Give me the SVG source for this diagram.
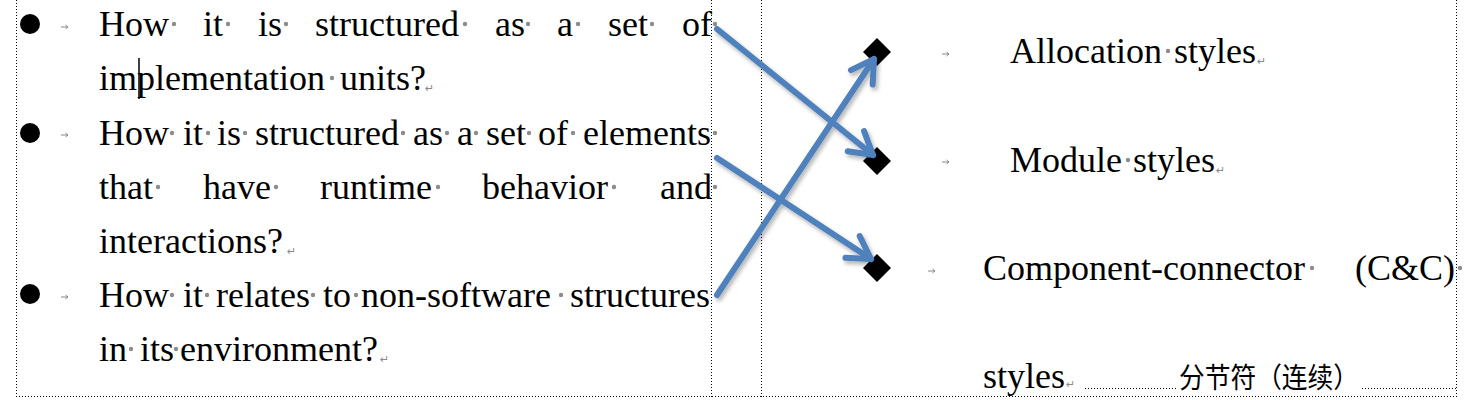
<svg xmlns="http://www.w3.org/2000/svg" width="1465" height="400" viewBox="0 0 1465 400">
<style>
.t{font-family:"Liberation Serif","Times New Roman",serif;font-size:36px;fill:#000}
.tr{font-family:"Liberation Serif","Times New Roman",serif;font-size:36px;fill:#000}
.d{fill:#8c8c8c}
.ret{font-family:"DejaVu Sans",sans-serif;font-size:11px;fill:#888}
.tab{stroke:#888;stroke-width:1;fill:none}
.grid{stroke:#000;stroke-width:1;stroke-dasharray:1 2;fill:none}
.arr{stroke:#4F81BD;stroke-width:6;stroke-linecap:round;fill:none;marker-end:url(#head)}
.cjk{font-family:"Noto Sans CJK SC",sans-serif;font-size:28px;fill:#000}
</style>
<defs>
<marker id="head" viewBox="-30 -20 40 40" refX="0" refY="0" markerWidth="40" markerHeight="40" markerUnits="userSpaceOnUse" orient="auto">
<path d="M-22,-13 L0,0 L-22,13" stroke="#4F81BD" stroke-width="6" stroke-linecap="round" stroke-linejoin="round" fill="none"/>
</marker>
<filter id="sh" x="-20%" y="-20%" width="140%" height="140%">
<feDropShadow dx="2" dy="3" stdDeviation="2" flood-color="#000" flood-opacity="0.3"/>
</filter>
<g id="tabmark"><path d="M0,0 H7 M4.5,-2 L7,0 L4.5,2" class="tab"/></g>
</defs>
<rect width="1465" height="400" fill="#fff"/>

<g id="frame">
<line x1="16.5" y1="0" x2="16.5" y2="397" class="grid"/>
<line x1="711.5" y1="0" x2="711.5" y2="397" class="grid"/>
<line x1="761.5" y1="0" x2="761.5" y2="397" class="grid"/>
<line x1="1456.5" y1="0" x2="1456.5" y2="397" class="grid"/>
<line x1="16" y1="396.5" x2="1457" y2="396.5" class="grid"/>
</g>

<g id="bullet1">
<circle cx="30" cy="24" r="10" fill="#000"/>
<use href="#tabmark" x="61" y="27"/>
<text class="t" y="36"><tspan x="99">How</tspan><tspan x="203">it</tspan><tspan x="258">is</tspan><tspan x="315">structured</tspan><tspan x="495">as</tspan><tspan x="557">a</tspan><tspan x="608">set</tspan><tspan x="682">of</tspan></text>
<circle class="d" cx="174" cy="24" r="2.2"/><circle class="d" cx="228" cy="24" r="2.2"/><circle class="d" cx="286" cy="24" r="2.2"/><circle class="d" cx="465" cy="24" r="2.2"/><circle class="d" cx="528" cy="24" r="2.2"/><circle class="d" cx="578" cy="24" r="2.2"/><circle class="d" cx="652" cy="24" r="2.2"/><circle class="d" cx="715" cy="24" r="2.2"/>
<text class="t" y="90"><tspan x="99">implementation</tspan><tspan x="340">units?</tspan></text>
<circle class="d" cx="332" cy="78" r="2.2"/>
<text class="ret" x="425" y="92">↵</text>
<line x1="139" y1="58" x2="139" y2="99" stroke="#000" stroke-width="1.5"/>
</g>

<g id="bullet2">
<circle cx="30" cy="133" r="10" fill="#000"/>
<use href="#tabmark" x="61" y="135"/>
<text class="t" y="145"><tspan x="99">How</tspan><tspan x="183">it</tspan><tspan x="217">is</tspan><tspan x="255">structured</tspan><tspan x="413">as</tspan><tspan x="457">a</tspan><tspan x="486">set</tspan><tspan x="538">of</tspan><tspan x="583">elements</tspan></text>
<circle class="d" cx="172" cy="133" r="2.2"/><circle class="d" cx="208" cy="133" r="2.2"/><circle class="d" cx="245" cy="133" r="2.2"/><circle class="d" cx="403" cy="133" r="2.2"/><circle class="d" cx="447" cy="133" r="2.2"/><circle class="d" cx="476" cy="133" r="2.2"/><circle class="d" cx="529" cy="133" r="2.2"/><circle class="d" cx="573" cy="133" r="2.2"/><circle class="d" cx="715" cy="133" r="2.2"/>
<text class="t" y="199"><tspan x="99">that</tspan><tspan x="203">have</tspan><tspan x="320">runtime</tspan><tspan x="482">behavior</tspan><tspan x="660">and</tspan></text>
<circle class="d" cx="158" cy="187" r="2.2"/><circle class="d" cx="276" cy="187" r="2.2"/><circle class="d" cx="438" cy="187" r="2.2"/><circle class="d" cx="614" cy="187" r="2.2"/><circle class="d" cx="715" cy="187" r="2.2"/>
<text class="t" x="99" y="253">interactions?</text>
<text class="ret" x="287" y="255">↵</text>
</g>

<g id="bullet3">
<circle cx="30" cy="294" r="10" fill="#000"/>
<use href="#tabmark" x="61" y="297"/>
<text class="t" y="307"><tspan x="99">How</tspan><tspan x="183">it</tspan><tspan x="216">relates</tspan><tspan x="323">to</tspan><tspan x="361">non-software</tspan><tspan x="570">structures</tspan></text>
<circle class="d" cx="172" cy="295" r="2.2"/><circle class="d" cx="207" cy="295" r="2.2"/><circle class="d" cx="313" cy="295" r="2.2"/><circle class="d" cx="356" cy="295" r="2.2"/><circle class="d" cx="561" cy="295" r="2.2"/>
<text class="t" y="361"><tspan x="99">in</tspan><tspan x="140">its</tspan><tspan x="180">environment?</tspan></text>
<circle class="d" cx="131" cy="349" r="2.2"/><circle class="d" cx="176" cy="349" r="2.2"/>
<text class="ret" x="380" y="363">↵</text>
</g>

<g id="allocation">
<polygon points="877,38 891,52 877,66 863,52" fill="#000"/>
<use href="#tabmark" x="942" y="54"/>
<text class="tr" y="63"><tspan x="1010">Allocation</tspan><tspan x="1174">styles</tspan></text>
<circle class="d" cx="1168" cy="51" r="2.2"/>
<text class="ret" x="1257" y="65">↵</text>
</g>

<g id="module">
<polygon points="877,147 891,161 877,175 863,161" fill="#000"/>
<use href="#tabmark" x="942" y="162"/>
<text class="tr" y="172"><tspan x="1010">Module</tspan><tspan x="1133">styles</tspan></text>
<circle class="d" cx="1128" cy="160" r="2.2"/>
<text class="ret" x="1216" y="174">↵</text>
</g>

<g id="cc">
<polygon points="877,254 891,268 877,282 863,268" fill="#000"/>
<use href="#tabmark" x="928" y="271"/>
<text class="tr" y="280"><tspan x="983">Component-connector</tspan><tspan x="1355">(C&amp;C)</tspan></text>
<circle class="d" cx="1312" cy="268" r="2.2"/><circle class="d" cx="1460" cy="268" r="2.2"/>
<text class="tr" x="983" y="388">styles</text>
<text class="ret" x="1066" y="388">↵</text>
</g>

<g id="sectionbreak">
<line x1="1085" y1="388.5" x2="1177" y2="388.5" class="grid"/>
<line x1="1362" y1="388.5" x2="1456" y2="388.5" class="grid"/>
<text class="cjk" x="1179" y="388" textLength="180" lengthAdjust="spacingAndGlyphs">分节符（连续）</text>
</g>

<g id="connectors" filter="url(#sh)">
<line class="arr" x1="717" y1="29" x2="873" y2="155"/>
<line class="arr" x1="717" y1="158" x2="871" y2="259"/>
<line class="arr" x1="717" y1="295" x2="874" y2="59"/>
</g>
</svg>
